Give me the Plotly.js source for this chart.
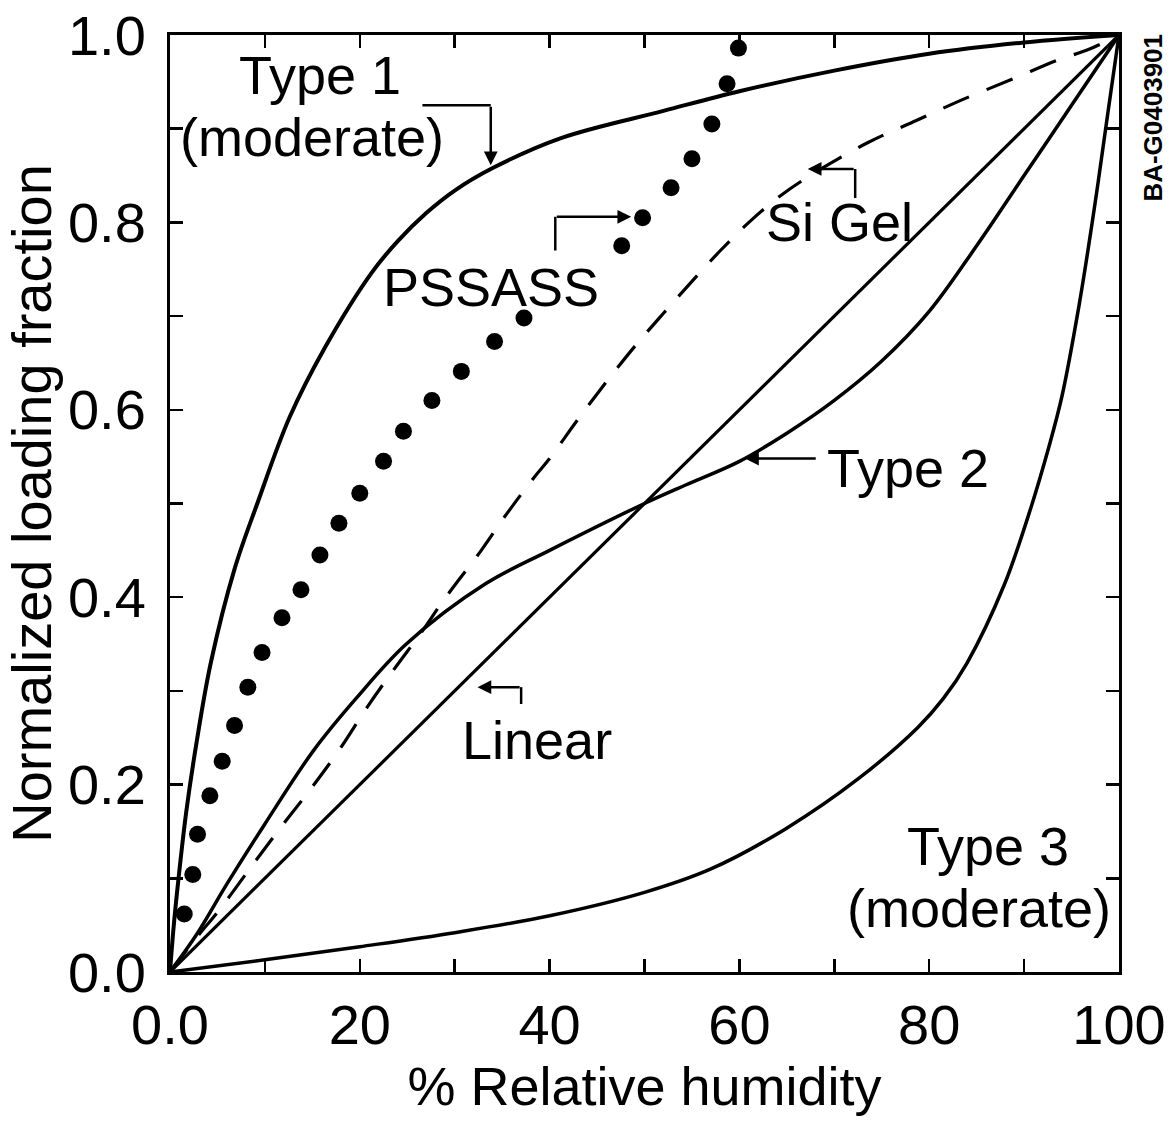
<!DOCTYPE html>
<html>
<head>
<meta charset="utf-8">
<script src="https://cdn.plot.ly/plotly-3.0.1.min.js"></script>
<style>html,body{margin:0;padding:0;background:#fff;}#chart{width:1175px;height:1122px;}</style>
</head>
<body>
<div id="chart"></div>
<script>
// ---- data ----
const type1RH   = [0, 0.4, 0.9, 1.7, 2.8, 4.3, 6.8, 9.2, 12.6, 16.3, 21.3, 24, 27, 30, 34, 41.2, 52, 60, 70, 80, 90, 100];
const type1Load = [0, 0.05, 0.1, 0.17, 0.245, 0.33, 0.43, 0.5, 0.592, 0.666, 0.747, 0.78, 0.81, 0.834, 0.858, 0.89, 0.919, 0.94, 0.962, 0.98, 0.992, 1.0];

const linearRH   = [0, 100];
const linearLoad = [0, 1.0];

const type2RH   = [0, 2.8, 6, 10, 15.1, 19.7, 24.9, 33.2, 40, 50, 54.4, 60, 65, 70, 75, 80, 85, 90, 95, 100];
const type2Load = [0, 0.04, 0.094, 0.158, 0.236, 0.293, 0.35, 0.414, 0.45, 0.5, 0.52, 0.545, 0.575, 0.61, 0.652, 0.705, 0.775, 0.85, 0.925, 1.0];

const type3RH   = [0, 10, 20, 30, 40, 50, 57, 64.9, 72.5, 78.8, 81.5, 84, 87.9, 90.7, 92.6, 94.0, 95.8, 97.4, 98.8, 100];
const type3Load = [0, 0.013, 0.027, 0.042, 0.06, 0.085, 0.11, 0.153, 0.206, 0.261, 0.292, 0.33, 0.413, 0.495, 0.56, 0.615, 0.712, 0.815, 0.915, 1.0];

const siGelRH   = [0, 2.5, 5.4, 8.9, 11.8, 14.8, 17.9, 20.8, 23.6, 26.6, 28.7, 30.4, 32.8, 35.2, 38.3, 40, 43, 46, 49, 52, 55, 58, 61, 64, 67.3, 73.5, 78.7, 83.5, 88.8, 93.5, 96.9, 100];
const siGelLoad = [0, 0.033, 0.069, 0.117, 0.156, 0.195, 0.238, 0.283, 0.323, 0.364, 0.395, 0.418, 0.45, 0.485, 0.527, 0.548, 0.59, 0.63, 0.668, 0.703, 0.737, 0.77, 0.80, 0.826, 0.849, 0.885, 0.909, 0.931, 0.953, 0.973, 0.985, 1.0];

const pssassRH   = [1.5, 2.4, 2.9, 4.2, 5.5, 6.8, 8.2, 9.7, 11.8, 13.8, 15.8, 17.8, 20.0, 22.5, 24.6, 27.6, 30.7, 34.2, 37.3, 47.6, 49.8, 52.8, 55.0, 57.1, 58.7, 59.9];
const pssassLoad = [0.062, 0.104, 0.147, 0.188, 0.225, 0.263, 0.304, 0.341, 0.378, 0.408, 0.445, 0.479, 0.511, 0.545, 0.577, 0.61, 0.641, 0.673, 0.698, 0.775, 0.805, 0.837, 0.868, 0.905, 0.948, 0.986];

const xTickVals = [0, 20, 40, 60, 80, 100];
const xTickText = ['0.0', '20', '40', '60', '80', '100'];
const yTickVals = [0, 0.2, 0.4, 0.6, 0.8, 1.0];
const yTickText = ['0.0', '0.2', '0.4', '0.6', '0.8', '1.0'];

// ---- chart ----
const FONT = 'Liberation Sans, Arial, Helvetica, sans-serif';
const INK = '#000';
const curve = (w) => ({color: INK, width: w, shape: 'spline', smoothing: 1});

const traces = [
  {x: type1RH, y: type1Load, mode: 'lines', line: curve(4), name: 'Type 1'},
  {x: linearRH, y: linearLoad, mode: 'lines', line: {color: INK, width: 3.2}, name: 'Linear'},
  {x: type2RH, y: type2Load, mode: 'lines', line: curve(3.5), name: 'Type 2'},
  {x: type3RH, y: type3Load, mode: 'lines', line: curve(3.5), name: 'Type 3'},
  {x: siGelRH, y: siGelLoad, mode: 'lines', line: Object.assign(curve(3.2), {dash: '28px,19px'}), name: 'Si Gel'},
  {x: pssassRH, y: pssassLoad, mode: 'markers', marker: {color: INK, size: 17}, cliponaxis: false, name: 'PSSASS'}
];

const txt = (x, y, text) => ({x, y, xref: 'x', yref: 'y', text, showarrow: false,
  font: {family: FONT, size: 54, color: INK}, xanchor: 'center', yanchor: 'middle'});
const arrowTo = (x, y, ax, ay) => ({x, y, ax, ay, xref: 'x', yref: 'y', axref: 'x', ayref: 'y',
  text: '', showarrow: true, arrowhead: 2, arrowsize: 1.1, arrowwidth: 2.5, arrowcolor: INK, standoff: 0});

const annotations = [
  txt(15.8, 0.957, 'Type 1'),
  txt(15.0, 0.891, '(moderate)'),
  txt(33.8, 0.731, 'PSSASS'),
  txt(70.6, 0.80, 'Si Gel'),
  txt(77.8, 0.538, 'Type 2'),
  txt(38.7, 0.248, 'Linear'),
  txt(86.2, 0.135, 'Type 3'),
  txt(85.2, 0.068, '(moderate)'),
  arrowTo(33.8, 0.861, 33.8, 0.925),
  arrowTo(48.6, 0.806, 40.6, 0.806),
  arrowTo(67.2, 0.857, 72.2, 0.857),
  arrowTo(60.6, 0.548, 68.2, 0.548),
  arrowTo(32.4, 0.304, 37.0, 0.304),
  {x: 1.036, y: 0.912, xref: 'paper', yref: 'paper', text: 'BA-G0403901', textangle: -90, showarrow: false,
   font: {family: FONT, size: 26, color: INK, weight: 'bold'}, xanchor: 'center', yanchor: 'middle'}
];

const seg = (x0, y0, x1, y1) => ({type: 'line', xref: 'x', yref: 'y', x0, y0, x1, y1, line: {color: INK, width: 2.5}});
const shapes = [
  seg(26.6, 0.925, 33.8, 0.925),
  seg(40.6, 0.77, 40.6, 0.806),
  seg(72.2, 0.826, 72.2, 0.857),
  seg(37.0, 0.286, 37.0, 0.304)
];

const axisCommon = {
  showgrid: false, zeroline: false, showline: true, linecolor: INK, linewidth: 3,
  mirror: 'ticks', ticks: 'inside', ticklen: 13, tickwidth: 2.5, tickcolor: INK,
  tickfont: {family: FONT, size: 56, color: INK}, ticklabeloverflow: 'allow',
  minor: {ticks: 'inside', ticklen: 13, tickwidth: 2.5, tickcolor: INK, showgrid: false}
};

const layout = {
  width: 1175, height: 1122,
  margin: {l: 170, r: 56, t: 35, b: 150},
  paper_bgcolor: '#fff', plot_bgcolor: '#fff',
  showlegend: false,
  font: {family: FONT, color: INK},
  xaxis: Object.assign({}, axisCommon, {
    range: [0, 100], tickmode: 'array', tickvals: xTickVals, ticktext: xTickText,
    minor: Object.assign({}, axisCommon.minor, {dtick: 10, tick0: 0}),
    ticklabelstandoff: 2,
    title: {text: '% Relative humidity', font: {family: FONT, size: 54, color: INK}, standoff: 8}
  }),
  yaxis: Object.assign({}, axisCommon, {
    range: [0, 1], tickmode: 'array', tickvals: yTickVals, ticktext: yTickText,
    minor: Object.assign({}, axisCommon.minor, {dtick: 0.1, tick0: 0}),
    ticklabelstandoff: 10,
    title: {text: 'Normalized loading fraction', font: {family: FONT, size: 56, color: INK}, standoff: 2}
  }),
  annotations, shapes
};

Plotly.newPlot('chart', traces, layout, {staticPlot: true, displayModeBar: false});
</script>
</body>
</html>
